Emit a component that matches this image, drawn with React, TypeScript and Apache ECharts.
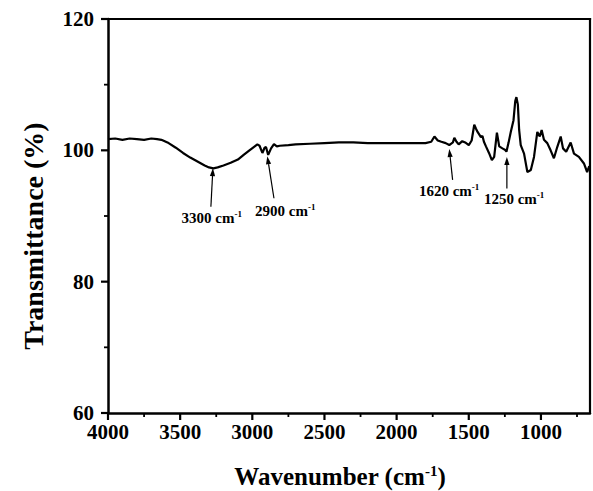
import React, { useEffect, useRef } from "react";
import * as echarts from "echarts";

const FONT = "Liberation Serif, Times New Roman, serif";

// Spectrum (wavenumber in cm-1, transmittance in %)
const wavenumbers = [
  4000, 3950, 3900, 3850, 3800, 3750, 3700, 3660, 3630, 3580, 3530, 3480, 3430, 3380, 3330, 3300,
  3270, 3240, 3200, 3150, 3100, 3060, 3020, 2990, 2965, 2950, 2930, 2915, 2905, 2890, 2870, 2850,
  2830, 2810, 2750, 2700, 2600, 2500, 2400, 2300, 2200, 2100, 2000, 1900, 1800, 1760, 1738, 1715,
  1690, 1660, 1635, 1610, 1600, 1585, 1570, 1545, 1525, 1500, 1480, 1462, 1450, 1439, 1416, 1405,
  1395, 1381, 1360, 1340, 1324, 1305, 1289, 1267, 1250, 1239, 1225, 1209, 1190, 1178, 1170, 1160,
  1151, 1140, 1117, 1094, 1070, 1048, 1025, 1008, 995, 979, 956, 933, 910, 887, 863, 847,
  825, 794, 771, 737, 702, 680, 665,
];
const transmittance = [
  101.7, 101.8, 101.6, 101.8, 101.7, 101.6, 101.8, 101.7, 101.6, 101.1, 100.4, 99.6, 98.9, 98.3, 97.7, 97.4,
  97.25, 97.4, 97.7, 98.1, 98.6, 99.3, 100.0, 100.5, 100.9, 100.7, 99.6, 100.4, 100.5, 99.3, 100.3, 100.95,
  100.6, 100.7, 100.8, 100.9, 101.0, 101.1, 101.2, 101.2, 101.1, 101.1, 101.1, 101.1, 101.1, 101.3, 102.1, 101.5,
  101.3, 101.1, 100.8, 101.2, 101.9, 101.3, 100.9, 101.4, 101.2, 100.8, 101.5, 103.9, 103.3, 102.8, 102.0, 102.2,
  101.3, 100.6, 99.6, 98.5, 99.0, 102.7, 100.6, 100.3, 100.1, 99.8, 101.1, 102.8, 104.6, 107.5, 108.1, 107.0,
  103.1, 100.8, 99.5, 96.7, 97.0, 99.0, 102.8, 102.1, 103.1, 101.6, 101.1, 100.0, 98.8, 100.5, 102.1, 100.3,
  99.8, 101.2, 99.5, 99.0, 98.0, 96.7, 97.6,
];

const xMin = 660;
const xMax = 4000;
const xMajorTicks = [4000, 3500, 3000, 2500, 2000, 1500, 1000];
const xMinorTicks = [3750, 3250, 2750, 2250, 1750, 1250, 750];
const yMin = 60;
const yMax = 120;
const yInterval = 20;
const yMajorTicks = [60, 80, 100, 120];
const yMinorTicks = [70, 90, 110];

const xTitle = "Wavenumber (cm";
const xTitleSup = "-1";
const yTitle = "Transmittance (%)";

// Peak annotations
const annotationLabels = ["3300", "2900", "1620", "1250"];
const annotationLabelPos = [
  [3281, 89.7],
  [2772, 90.8],
  [1636, 93.85],
  [1186, 92.6],
];
const arrowTails = [
  [3287, 91.4],
  [2850, 92.7],
  [1612, 95.5],
  [1236, 94.2],
];
const arrowHeads = [
  [3273, 97.3],
  [2896, 99.1],
  [1635, 100.2],
  [1236, 99.0],
];

export default function App() {
  const ref = useRef<HTMLDivElement>(null);

  useEffect(() => {
    if (!ref.current) return;
    const chart = echarts.init(ref.current, undefined, { renderer: "svg" });
    const data = wavenumbers.map((w, i) => [w, transmittance[i]]);
    const black = "#000";

    chart.setOption({
      animation: false,
      grid: { left: 108, right: 3, top: 19, bottom: 78 },
      xAxis: {
        type: "value",
        min: xMin,
        max: xMax,
        splitNumber: 6,
        inverse: true,
        axisLine: { show: true, onZero: false, lineStyle: { color: black, width: 2.5 } },
        axisTick: { show: false },
        minorTick: { show: false },
        axisLabel: {
          show: true,
          showMinLabel: false,
          formatter: (v: number) => String(v),
          fontFamily: FONT,
          fontWeight: "bold",
          fontSize: 21,
          color: black,
          margin: 8,
        },
        splitLine: { show: false },
      },
      yAxis: {
        type: "value",
        min: yMin,
        max: yMax,
        interval: yInterval,
        axisLine: { show: true, onZero: false, lineStyle: { color: black, width: 2.5 } },
        axisTick: { show: false },
        minorTick: { show: false },
        axisLabel: { show: true, fontFamily: FONT, fontWeight: "bold", fontSize: 21, color: black, margin: 14 },
        splitLine: { show: false },
      },
      series: [
        {
          type: "line",
          data,
          symbol: "none",
          lineStyle: { color: black, width: 2.2 },
        },
      ],
    });

    const toPx = (p: number[]) => chart.convertToPixel({ gridIndex: 0 }, p) as number[];
    const graphics: any[] = [];
    const bar = (x0: number, y0: number, x1: number, y1: number) => ({
      type: "polygon",
      shape: { points: [[x0, y0], [x1, y0], [x1, y1], [x0, y1]] },
      style: { fill: black },
    });

    // frame (top and right edges) from the axis extents
    const tl = toPx([xMax, yMax]);
    const tr = toPx([xMin, yMax]);
    const br = toPx([xMin, yMin]);
    const bl = toPx([xMax, yMin]);
    graphics.push(bar(tl[0], tl[1] - 1.1, tr[0] + 1.1, tl[1] + 1.1));
    graphics.push(bar(tr[0] - 1.1, tr[1] - 1.1, tr[0] + 1.1, br[1]));

    // ticks placed by the axes' scales
    const axisY = bl[1];
    const axisX = bl[0];
    xMajorTicks.forEach((v) => {
      const p = toPx([v, yMin]);
      graphics.push(bar(p[0] - 1.1, axisY, p[0] + 1.1, axisY + 7));
    });
    xMinorTicks.forEach((v) => {
      const p = toPx([v, yMin]);
      graphics.push(bar(p[0] - 0.9, axisY, p[0] + 0.9, axisY + 4));
    });
    yMajorTicks.forEach((v) => {
      const p = toPx([xMax, v]);
      graphics.push(bar(axisX - 7, p[1] - 1.1, axisX, p[1] + 1.1));
    });
    yMinorTicks.forEach((v) => {
      const p = toPx([xMax, v]);
      graphics.push(bar(axisX - 4, p[1] - 0.9, axisX, p[1] + 0.9));
    });

    // annotations
    const labelRich = {
      n: { fontFamily: FONT, fontWeight: "bold", fontSize: 15, lineHeight: 16, fill: black },
      s: { fontFamily: FONT, fontWeight: "bold", fontSize: 9, lineHeight: 9, verticalAlign: "top", fill: black },
    };
    annotationLabels.forEach((lab, i) => {
      const t = toPx(arrowTails[i]);
      const h = toPx(arrowHeads[i]);
      const dx = h[0] - t[0];
      const dy = h[1] - t[1];
      const len = Math.hypot(dx, dy) || 1;
      const ux = dx / len;
      const uy = dy / len;
      const headLen = 8;
      const halfW = 2.6;
      const bx = h[0] - ux * headLen;
      const by = h[1] - uy * headLen;
      graphics.push({
        type: "line",
        shape: { x1: t[0], y1: t[1], x2: bx, y2: by },
        style: { stroke: black, lineWidth: 1.2 },
      });
      graphics.push({
        type: "polygon",
        shape: {
          points: [
            [h[0], h[1]],
            [bx - uy * halfW, by + ux * halfW],
            [bx + uy * halfW, by - ux * halfW],
          ],
        },
        style: { fill: black },
      });
      const c = toPx(annotationLabelPos[i]);
      graphics.push({
        type: "text",
        x: c[0],
        y: c[1],
        style: { text: `{n|${lab} cm}{s|-1}`, rich: labelRich, align: "center", verticalAlign: "middle" },
      });
    });

    // axis titles
    graphics.push({
      type: "text",
      x: 340,
      y: 476,
      style: {
        text: `{n|${xTitle}}{s|${xTitleSup}}{n|)}`,
        rich: {
          n: { fontFamily: FONT, fontWeight: "bold", fontSize: 25, lineHeight: 25, fill: black },
          s: { fontFamily: FONT, fontWeight: "bold", fontSize: 15, lineHeight: 15, verticalAlign: "top", fill: black },
        },
        align: "center",
        verticalAlign: "middle",
      },
    });
    graphics.push({
      type: "text",
      x: 33,
      y: 236,
      rotation: Math.PI / 2,
      style: {
        text: yTitle,
        fontFamily: FONT,
        fontWeight: "bold",
        fontSize: 28,
        fill: black,
        align: "center",
        verticalAlign: "middle",
      },
    });
    chart.setOption({ graphic: graphics });

    return () => chart.dispose();
  }, []);

  return (
    <div
      ref={ref}
      style={{ position: "fixed", left: 0, top: 0, width: 593, height: 491, background: "#fff" }}
    />
  );
}
